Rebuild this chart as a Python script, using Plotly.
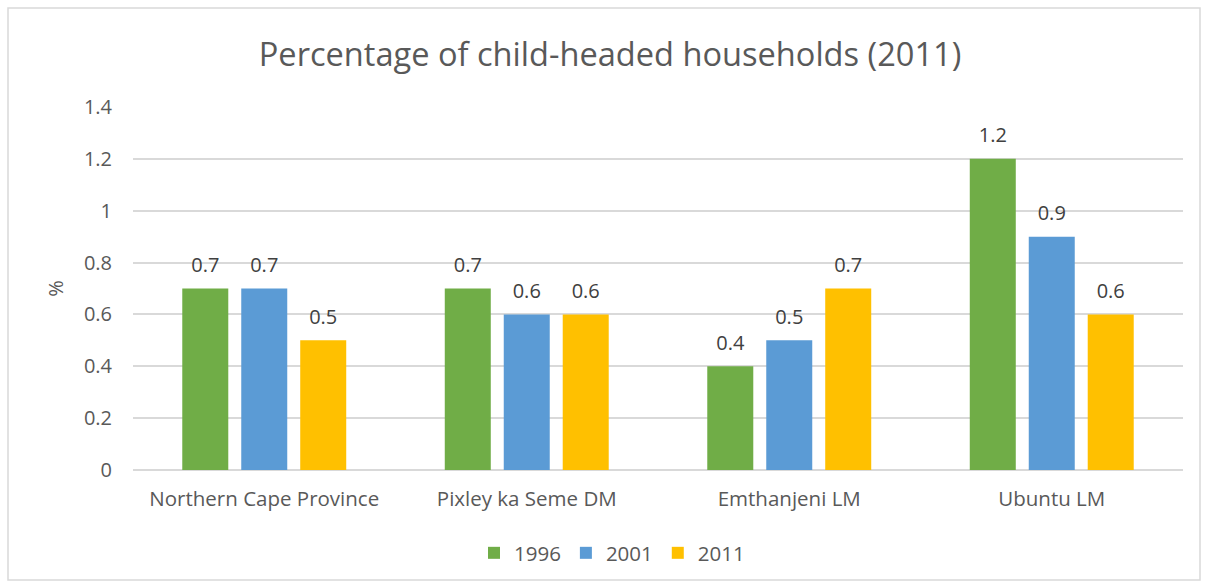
import plotly.graph_objects as go

categories = ["Northern Cape Province", "Pixley ka Seme DM", "Emthanjeni LM", "Ubuntu LM"]
series_names = ["1996", "2001", "2011"]
values_1996 = [0.7, 0.7, 0.4, 1.2]
values_2001 = [0.7, 0.6, 0.5, 0.9]
values_2011 = [0.5, 0.6, 0.7, 0.6]
colors = ["#70AD47", "#5B9BD5", "#FFC000"]

FONT = "Open Sans, Liberation Sans, sans-serif"
BARGAP = 0.326
fig = go.Figure()
for name, vals, col in zip(series_names, [values_1996, values_2001, values_2011], colors):
    fig.add_trace(go.Bar(
        x=categories, y=vals, name=name, marker=dict(color=col, line=dict(width=0)),
        offsetgroup=name,
    ))
for name, vals in zip(series_names, [values_1996, values_2001, values_2011]):
    fig.add_trace(go.Scatter(
        x=categories, y=vals, mode="markers+text", showlegend=False, hoverinfo="skip",
        offsetgroup=name, marker=dict(size=17, opacity=0),
        text=[f"{v:g}" for v in vals], textposition="top center",
        textfont=dict(size=20, color="#404040", family=FONT), cliponaxis=False,
    ))

W, H = 1207, 587
L, R, T, B = 133, 24, 107, 117
pw, ph = W - L - R, H - T - B

def px(x):
    return (x - L) / pw

def py(y):
    return (H - B - y) / ph

fig.update_layout(
    width=W, height=H,
    margin=dict(l=L, r=R, t=T, b=B),
    paper_bgcolor="white", plot_bgcolor="white",
    font=dict(family=FONT, color="#595959"),
    title=dict(text="Percentage of child-headed households (2011)", xref="container", x=610 / W,
               xanchor="center", y=1 - 55 / H, yanchor="middle",
               font=dict(size=32.6, color="#595959", family=FONT)),
    barmode="group", bargap=BARGAP, bargroupgap=0.22,
    scattermode="group", scattergap=BARGAP,
    xaxis=dict(showgrid=False, showline=False, ticks="", tickfont=dict(size=20.5, color="#595959"),
               ticklabelstandoff=14),
    yaxis=dict(range=[0, 1.4], dtick=0.2, showgrid=True, gridcolor="#D9D9D9", gridwidth=1.5,
               zeroline=True, zerolinecolor="#D9D9D9", zerolinewidth=1.5,
               tickfont=dict(size=20, color="#595959"), ticklabelstandoff=20,
               title=dict(text="%", font=dict(size=20, color="#595959"), standoff=14)),
    legend=dict(orientation="h", x=px(612), xanchor="center", y=py(553), yanchor="middle",
                font=dict(size=20.5, color="#595959"), traceorder="normal", itemwidth=30),
    showlegend=True,
    shapes=[dict(type="rect", xref="paper", yref="paper", x0=px(8), x1=px(1200), y0=py(580), y1=py(8),
                 line=dict(color="#D9D9D9", width=1.5), fillcolor="rgba(0,0,0,0)", layer="below")],
)
fig.write_html("out.html", config={"displayModeBar": False},
               post_script="document.body.style.margin='0';")
